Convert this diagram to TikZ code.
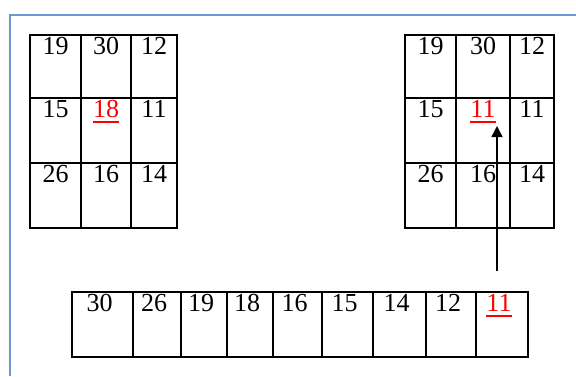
\documentclass[tikz,border=0pt]{standalone}
\usepackage{fontspec}
\setmainfont{Liberation Serif}
\usetikzlibrary{positioning,arrows.meta}
\definecolor{FrameBlue}{HTML}{6D96D3}
\definecolor{PickRed}{HTML}{FF0000}
% red value with its underline
\newcommand{\picked}[1]{\textcolor{PickRed}{\setbox0\hbox{#1}\rlap{\rule[-5bp]{\wd0}{1.6bp}}\box0}}
% one cell: name, x0, y0, x1, y1, text
\newcommand{\cellbox}[6]{%
  \node[cell,minimum width={(#4-#2)*1bp},minimum height={(#5-#3)*1bp}] (#1) at ({(#2+#4)/2},{(#3+#5)/2}) {};
  \node[num] (#1t) at (#1.north) {#6};}

\begin{document}
\begin{tikzpicture}[x=1bp,y=-1bp,font=\fontsize{26bp}{26bp}\selectfont,
  cell/.style={draw,line width=1.5bp,inner sep=0pt},
  num/.style={inner sep=0pt,text height=17.5bp,text depth=0pt,anchor=north,yshift=-3bp}]
  \useasboundingbox (0,0) rectangle (576,376);
  \draw[FrameBlue,line width=2.5bp] (10,376) -- (10,15) -- (576,15);
  % left square
  \foreach \ya/\yb/\j/\ta/\tb/\tc in {35/98/1/19/30/12,98/163/2/15/{\picked{18}}/11,163/228/3/26/16/14}{
    \cellbox{L\j1}{30}{\ya}{81}{\yb}{\ta}
    \cellbox{L\j2}{81}{\ya}{131}{\yb}{\tb}
    \cellbox{L\j3}{131}{\ya}{177}{\yb}{\tc}}
  % right square
  \foreach \ya/\yb/\j/\ta/\tb/\tc in {35/98/1/19/30/12,98/163/2/15/{\picked{11}}/11,163/228/3/26/16/14}{
    \cellbox{R\j1}{405}{\ya}{456}{\yb}{\ta}
    \cellbox{R\j2}{456}{\ya}{510}{\yb}{\tb}
    \cellbox{R\j3}{510}{\ya}{554}{\yb}{\tc}}
  % sorted row
  \begin{scope}[num/.append style={xshift=-3bp}]
  \foreach \xa/\xb/\k/\t in {72/133/1/30,133/181/2/26,181/227/3/19,227/273/4/18,273/322/5/16,
      322/373/6/15,373/426/7/14,426/476/8/12,476/528/9/{\picked{11}}}{
    \cellbox{B\k}{\xa}{292}{\xb}{357}{\t}}
  \end{scope}
  \coordinate (tail) at (497,271);
  \coordinate (tip) at (497,126);
  \draw[line width=1.5bp,-{Triangle[length=11bp,width=11bp]}] (tail) -- (tip);
\end{tikzpicture}
\end{document}
